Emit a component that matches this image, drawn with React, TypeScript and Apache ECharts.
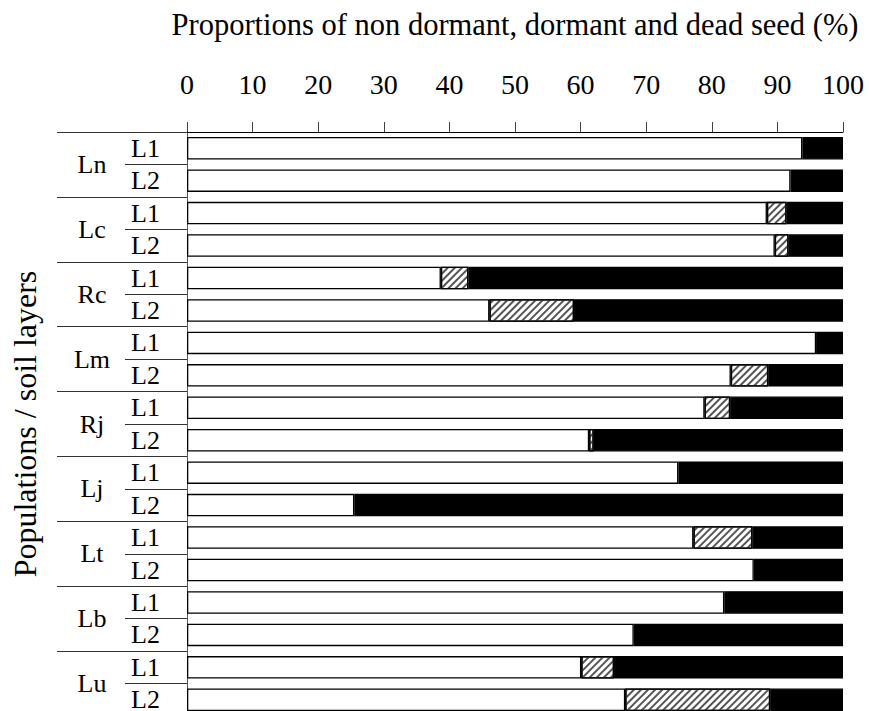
import React, { useEffect, useRef } from "react";
import * as echarts from "echarts";

const populations = ["Ln", "Lc", "Rc", "Lm", "Rj", "Lj", "Lt", "Lb", "Lu"];
const layers = ["L1", "L2"];
const nonDormant = [93.8, 92.0, 88.4, 89.6, 38.7, 46.1, 95.9, 82.9, 78.9, 61.3, 74.9, 25.5, 77.2, 86.4, 81.9, 68.1, 60.1, 66.8];
const dormant = [0, 0, 3.0, 2.1, 4.2, 12.9, 0, 5.7, 3.9, 0.7, 0, 0, 9.0, 0, 0, 0, 5.0, 22.1];
const dead = [6.2, 8.0, 8.6, 8.3, 57.1, 41.0, 4.1, 11.4, 17.2, 38.0, 25.1, 74.5, 13.8, 13.6, 18.1, 31.9, 34.9, 11.1];

const FONT = "Liberation Serif";

export default function App() {
  const ref = useRef<HTMLDivElement>(null);
  useEffect(() => {
    document.body.style.margin = "0";
    const chart = echarts.init(ref.current!, undefined, { renderer: "svg" });
    const rows = populations.flatMap((p) => layers.map((l) => p + "-" + l));
    const nz = (a: number[]) => a.map((v) => (v > 0 ? v : null));
    const border = { borderColor: "#000", borderWidth: 1.3 };
    chart.setOption({
      animation: false,
      backgroundColor: "#fff",
      textStyle: { fontFamily: FONT },
      grid: {
        left: 187,
        right: 26,
        top: 132,
        height: 584,
        containLabel: false,
        outerBoundsMode: "none",
      },
      xAxis: {
        type: "value",
        position: "top",
        min: 0,
        max: 100,
        interval: 10,
        name: "Proportions of non dormant, dormant and dead seed (%)",
        nameLocation: "middle",
        nameGap: 92,
        nameTextStyle: { fontFamily: FONT, fontSize: 30.5, color: "#000" },
        axisLine: { show: true, lineStyle: { color: "#000", width: 1 } },
        axisTick: { show: true, length: 10, lineStyle: { color: "#444" } },
        axisLabel: { fontFamily: FONT, fontSize: 28, color: "#000", margin: 34 },
        splitLine: { show: false },
      },
      yAxis: [
        {
          type: "category",
          data: rows,
          inverse: true,
          position: "left",
          axisLine: { show: true, lineStyle: { color: "#555", width: 1 } },
          axisTick: { show: true, length: 62, interval: 0, lineStyle: { color: "#333" } },
          axisLabel: {
            interval: 0,
            fontFamily: FONT,
            fontSize: 26,
            color: "#000",
            margin: 27,
            formatter: (v: string) => v.split("-")[1],
          },
        },
        {
          type: "category",
          data: populations,
          inverse: true,
          position: "left",
          name: "Populations / soil layers",
          nameLocation: "middle",
          nameGap: 146,
          nameRotate: 90,
          nameTextStyle: { fontFamily: FONT, fontSize: 32, color: "#000" },
          axisLine: { show: false },
          axisTick: { show: true, length: 130, interval: 0, lineStyle: { color: "#333" } },
          axisLabel: {
            interval: 0,
            fontFamily: FONT,
            fontSize: 26,
            color: "#000",
            margin: 95,
            align: "center",
            padding: [8, 0, 0, 0],
          },
        },
      ],
      series: [
        {
          name: "Non dormant",
          type: "bar",
          stack: "all",
          yAxisIndex: 0,
          barWidth: 22.5,
          data: nz(nonDormant),
          itemStyle: { color: "#fff", ...border },
        },
        {
          name: "Dormant",
          type: "bar",
          stack: "all",
          yAxisIndex: 0,
          barWidth: 22.5,
          data: nz(dormant),
          itemStyle: {
            color: "#fff",
            ...border,
            decal: {
              symbol: "rect",
              symbolSize: 1,
              dashArrayX: [1, 0],
              dashArrayY: [1.2, 2.4],
              rotation: -Math.PI / 4,
              color: "#555",
              backgroundColor: "#fff",
            },
          },
        },
        {
          name: "Dead",
          type: "bar",
          stack: "all",
          yAxisIndex: 0,
          barWidth: 22.5,
          data: nz(dead),
          itemStyle: { color: "#000", ...border },
        },
      ],
    });
    return () => chart.dispose();
  }, []);
  return <div ref={ref} style={{ position: "absolute", left: 0, top: 0, width: 869, height: 711 }} />;
}
